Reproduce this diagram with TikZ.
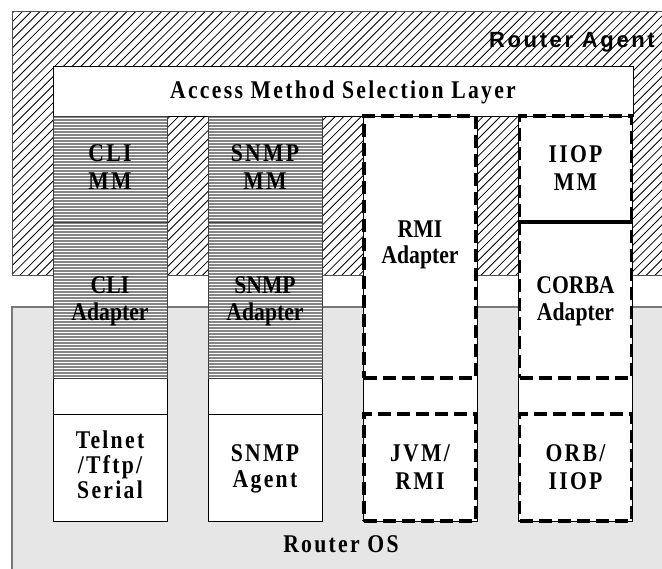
\documentclass[tikz,border=0pt]{standalone}
\usepackage{fontspec}
\setmainfont{Liberation Serif}[FakeStretch=0.85]
\newfontfamily\agentfont{Liberation Sans}
\definecolor{osgray}{RGB}{230,230,230}
\definecolor{osedge}{RGB}{120,120,120}
\definecolor{agentedge}{RGB}{80,80,80}
\tikzset{
  region/.style={rectangle, inner sep=0pt, outer sep=0pt},
  hatched/.style={region, fill=white, draw=agentedge, line width=1pt,
    path picture={
      \foreach \k in {0,...,110}
        \draw[black, line width=0.8pt]
          ([xshift={\k*8.7pt-280pt}]path picture bounding box.south west)
          -- ++(290pt,290pt);
    }},
  plainbox/.style={region, fill=white, draw=black, line width=0.9pt},
  stipple/.style={region, fill=white, draw=black!75, line width=0.9pt,
    path picture={
      \foreach \j in {0,...,60}
        \draw[black!48, line width=1.3pt]
          ([yshift={-\j*3pt-1pt}]path picture bounding box.north west)
          -- ([yshift={-\j*3pt-1pt}]path picture bounding box.north east);
    }},
  dashbox/.style={region, draw=black, line width=3.4pt,
    dash pattern=on 13pt off 6pt},
  lbl/.style={font=\bfseries\fontsize{25.5}{#1}\selectfont, align=center,
    inner sep=0pt},
  wide/.style={font=\bfseries\fontsize{25.5}{#1}\selectfont\addfontfeature{LetterSpace=9},
    align=center, inner sep=0pt},
}
\begin{document}
\begin{tikzpicture}[x=1pt,y=-1pt]
\useasboundingbox (0,0) rectangle (662,569);

% Router OS (lower, grey) and Router Agent (upper, hatched)
\node[region, fill=osgray, draw=osedge, line width=1.6pt,
      minimum width=652pt, minimum height=264pt] (os) at (338,439) {};
\node[hatched, minimum width=652pt, minimum height=264pt] (agent) at (338,144) {};
\node[font=\agentfont\bfseries\fontsize{22}{25}\selectfont\addfontfeature{LetterSpace=12},
      inner sep=0pt, anchor=base east] (agenttxt) at (655,48) {Router Agent};

% Access method selection layer
\node[plainbox, minimum width=580pt, minimum height=50pt] (layer) at (343,91) {};
\node[wide=25, anchor=base] (layertxt) at (343,99) {Access Method Selection Layer};

% Four columns
\foreach \cx/\nm in {110/cli,265/snmp,420/rmi,575.5/iiop}
  \node[plainbox, minimum width=114pt, minimum height=405pt] (\nm col) at (\cx,318.5) {};

% CLI and SNMP stacks
\node[stipple, minimum width=114pt, minimum height=106pt] (climm) at (110,169) {};
\node[stipple, minimum width=114pt, minimum height=156pt] (cliad) at (110,300) {};
\node[plainbox, minimum width=114pt, minimum height=107pt] (telnet) at (110,467.5) {};
\node[stipple, minimum width=114pt, minimum height=106pt] (snmpmm) at (265,169) {};
\node[stipple, minimum width=114pt, minimum height=156pt] (snmpad) at (265,300) {};
\node[plainbox, minimum width=114pt, minimum height=107pt] (snmpag) at (265,467.5) {};

% RMI and IIOP stacks (dashed)
\node[dashbox, minimum width=112pt, minimum height=262pt] (rmiad) at (420,247) {};
\node[dashbox, minimum width=112pt, minimum height=107pt] (jvm) at (420,467.5) {};
\node[dashbox, minimum width=112pt, minimum height=106pt] (iiopmm) at (575.5,169) {};
\node[dashbox, minimum width=112pt, minimum height=156pt] (corba) at (575.5,300) {};
\node[dashbox, minimum width=112pt, minimum height=107pt] (orb) at (575.5,467.5) {};

% Labels
\node[wide=28] (climmtxt) at (110,167.5) {CLI\\MM};
\node[wide=28] (snmpmmtxt) at (265,167.5) {SNMP\\MM};
\node[wide=28] (iiopmmtxt) at (575.5,168) {IIOP\\MM};
\node[lbl=27] (cliadtxt) at (110,301) {CLI\\Adapter};
\node[lbl=27] (snmpadtxt) at (265,301) {SNMP\\Adapter};
\node[lbl=27] (corbatxt) at (575.5,301) {CORBA\\Adapter};
\node[lbl=26] (rmiadtxt) at (420,245) {RMI\\Adapter};
\node[wide=25] (telnettxt) at (110,465) {Telnet\\/Tftp/\\Serial};
\node[wide=26] (snmpagtxt) at (265,469) {SNMP\\Agent};
\node[wide=28] (jvmtxt) at (420,467.5) {JVM/\\RMI};
\node[wide=28] (orbtxt) at (575.5,467.5) {ORB/\\IIOP};
\node[wide=25, anchor=base] (ostxt) at (341,552) {Router OS};
\end{tikzpicture}
\end{document}
